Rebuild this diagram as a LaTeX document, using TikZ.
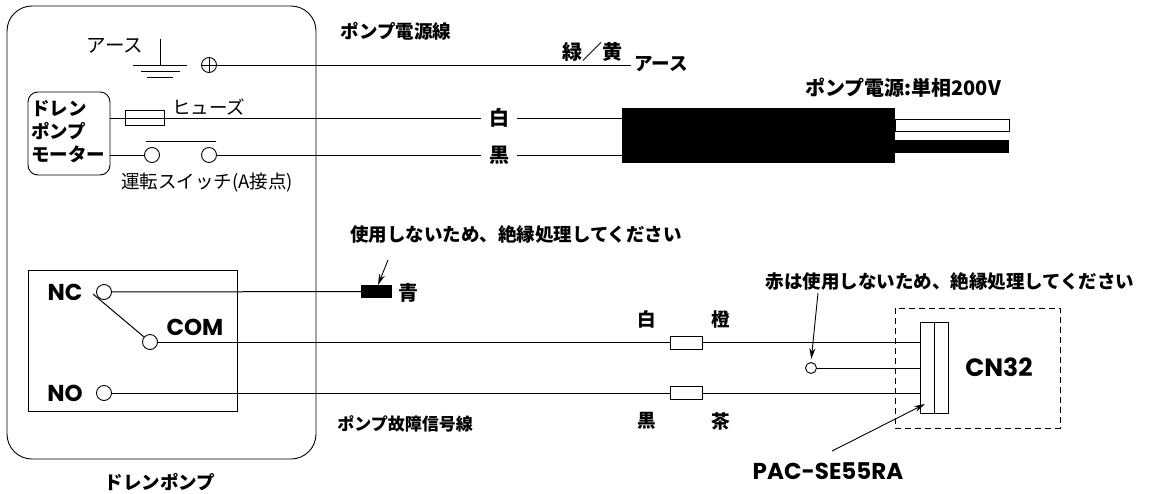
\documentclass[tikz,border=0pt]{standalone}
\usepackage{fontspec}
\setmainfont{Noto Sans CJK JP}
\newfontfamily\latinlab{Poppins}
\usetikzlibrary{arrows.meta}
\tikzset{
  wire/.style={black,line width=1pt},
  term/.style={circle,draw,fill=white,line width=.9pt,inner sep=0pt,minimum size=15pt},
  fuse/.style={rectangle,draw,line width=.9pt,inner sep=0pt,minimum width=32pt,minimum height=13pt},
  lab/.style={inner sep=0pt,font=\fontsize{18.5}{20}\selectfont},
  blab/.style={inner sep=0pt,font=\fontsize{18.5}{20}\selectfont\bfseries},
  wlab/.style={fill=white,inner sep=0pt,minimum width=36pt,minimum height=20pt,font=\fontsize{20}{22}\selectfont\bfseries},
  big/.style={inner sep=0pt,font=\fontsize{23}{26}\selectfont\latinlab\bfseries},
  lead/.style={line width=.9pt,-{Stealth[length=11pt,width=6pt]}},
}
\begin{document}
\begin{tikzpicture}[x=1pt,y=-1pt]
\useasboundingbox (0,0) rectangle (1149,493);

% pump case
  \draw[line width=.9pt,rounded corners=25pt] (7,6) rectangle (316,459);
  \node[rectangle,draw,line width=.9pt,rounded corners=10pt,minimum width=82pt,minimum height=83pt,inner sep=0pt] (motor) at (69,133.5) {};
  \draw[line width=.9pt] (28,270) rectangle (237,411);

% earth
  \draw[wire] (160,39) -- (160,65);
  \draw[wire] (133,65) -- (187,65);
  \draw[wire] (141,71) -- (180,71);
  \draw[wire] (147,77) -- (173,77);
  \node[term] (tearth) at (209,65) {};
  \draw[wire] (tearth.north) -- (tearth.south);
  \draw[wire] (tearth.west) -- (tearth.east);
  \coordinate (eend) at (631,65);
  \draw[wire] (tearth) -- (eend);

% pump power
  \node[fill=black,minimum width=273pt,minimum height=55pt,inner sep=0pt] (cable) at (758.5,135.5) {};
  \node[draw,fill=white,line width=.9pt,minimum width=114pt,minimum height=12pt,inner sep=0pt] (cwhite) at (952,125) {};
  \node[fill=black,minimum width=114pt,minimum height=13pt,inner sep=0pt] (cblack) at (952,146.5) {};
  \coordinate (mtop) at (110,118);
  \coordinate (ctop) at (622,118);
  \coordinate (cbot) at (622,155);
  \draw[wire] (mtop) -- (ctop);
  \node[fuse,minimum width=39pt,minimum height=15pt] (fpow) at (144.5,118) {};
  \node[term] (sw1) at (152,155) {};
  \node[term] (sw2) at (209,155) {};
  \draw[wire] (motor.east|-sw1) -- (sw1);
  \draw[wire] (sw2) -- (cbot);
  \draw[wire] (146,141) -- (216,141);
  \node[wlab] (lwhite) at (499,118) {白};
  \node[wlab] (lblack) at (499,155) {黒};

% relay
  \node[term] (nc) at (104,292) {};
  \node[term] (com) at (150,342) {};
  \node[term] (no) at (104,393) {};
  \draw[wire] (93,294) -- (com);
  \node[fill=black,minimum width=31pt,minimum height=13pt,inner sep=0pt] (cap) at (376.5,291.5) {};
  \draw[wire] (nc) -- (cap);

% connector
  \node[draw,line width=.9pt,minimum width=14pt,minimum height=91pt,inner sep=0pt] (cna) at (927,367.5) {};
  \node[draw,line width=.9pt,minimum width=14pt,minimum height=91pt,inner sep=0pt] (cnb) at (941,367.5) {};
  \draw[line width=.8pt,dashed,dash pattern=on 6pt off 4pt] (895,308) rectangle (1060,428);
  \coordinate (cn1) at (cna.west|-com);
  \coordinate (cn3) at (cna.west|-no);
  \node[term,minimum size=11pt] (red) at (811,368) {};
  \draw[wire] (com) -- (cn1);
  \draw[wire] (no) -- (cn3);
  \draw[wire] (red) -- (cna.west|-red);
  \node[fuse,fill=white] (f1) at (686,342.5) {};
  \node[fuse,fill=white] (f2) at (686,392.5) {};

% arrows
  \coordinate (a1) at (388,260);
  \coordinate (a1end) at (378,285);
  \coordinate (a2) at (818,293);
  \coordinate (a3) at (832,451);
  \coordinate (a3end) at (925,404);
  \draw[lead] (a1) -- (a1end);
  \draw[lead,shorten >=3pt] (a2) -- (red.north);
  \draw[lead] (a3) -- (a3end);

% labels
  \node[lab,font=\fontsize{19.5}{21}\selectfont] (learth) at (115,46) {アース};
  \node[lab,anchor=west] (lfuse) at (172,107) {ヒューズ};
  \node[lab] (lsw) at (207,183) {運転スイッチ(A接点)};
  \node[blab,align=left,anchor=west,font=\fontsize{18.5}{23}\selectfont\bfseries] (lmotor) at (31,132) {ドレン\\ポンプ\\モーター};
  \node[blab] (lpline) at (396,31) {ポンプ電源線};
  \node[blab,font=\fontsize{20}{22}\selectfont\bfseries] (lgy) at (592,52) {緑／黄};
  \node[blab] (learth2) at (661,64) {アース};
  \node[blab,font=\fontsize{20}{22}\selectfont\bfseries] (lpow) at (903,88) {ポンプ電源:単相200V};
  \node[blab] (lnote1) at (516,235) {使用しないため、絶縁処理してください};
  \node[blab,font=\fontsize{20}{22}\selectfont\bfseries] (lblue) at (408,293) {青};
  \node[big] (lnc) at (65,292) {NC};
  \node[big] (lcom) at (195,327) {COM};
  \node[big] (lno) at (65,393) {NO};
  \node[blab] (lw2) at (647,319) {白};
  \node[blab] (lor) at (721,319) {橙};
  \node[blab] (lb2) at (647,421) {黒};
  \node[blab] (lbr) at (721,421) {茶};
  \node[blab,font=\fontsize{17}{20}\selectfont\bfseries] (lfail) at (405,424) {ポンプ故障信号線};
  \node[blab] (lnote2) at (950,282) {赤は使用しないため、絶縁処理してください};
  \node[big,font=\fontsize{25}{27}\selectfont\latinlab\bfseries] (lcn) at (999,367) {CN32};
  \node[big,font=\fontsize{23}{25}\selectfont\latinlab\bfseries] (lpac) at (828,471) {PAC-SE55RA};
  \node[blab] (ldrain) at (160,482) {ドレンポンプ};
\end{tikzpicture}
\end{document}
